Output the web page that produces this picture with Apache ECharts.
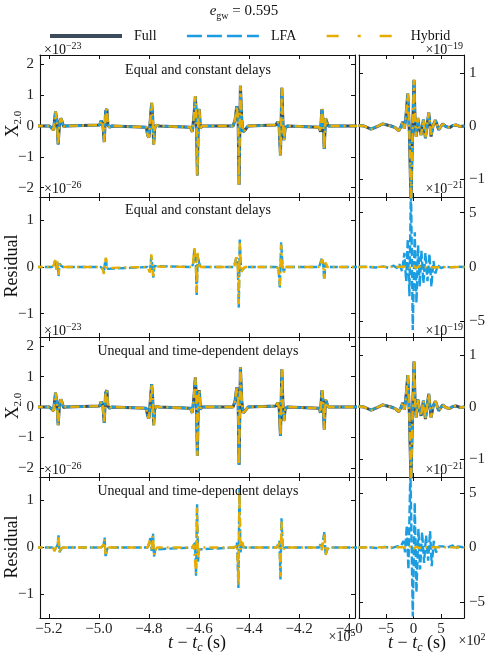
<!DOCTYPE html>
<html><head><meta charset="utf-8">
<script src="https://cdn.jsdelivr.net/npm/echarts@6/dist/echarts.min.js"></script>
<style>html,body{margin:0;padding:0;background:#fff}#c{width:488px;height:655px}</style>
</head><body><div id="c"></div><script>
// ---------- tick labels ----------
const xTicksLeft = [-5.2, -5.0, -4.8, -4.6, -4.4, -4.2, -4.0];   // ×1e5 s
const xTicksRight = [-5, 0, 5];                                  // ×1e2 s
const yTicksX20 = [-2, -1, 0, 1, 2];
const yTicksRes = [-1, 0, 1];
const yTicksX20Zoom = [-1, 0, 1];
const yTicksResZoom = [-5, 0, 5];

// ---------- left panels: X2.0 (×1e-23), t in 1e5 s ----------
const x20Full = [[-5.26,0],
 [-5.1973,0],[-5.1907,-0.05],[-5.1813,-0.13],[-5.1733,0.47],[-5.168,0.2],[-5.1627,-0.6],[-5.1573,0.09],[-5.152,0.25],[-5.1467,0.14],[-5.1413,-0.02],[-5.1333,0],
 [-4.9973,0.03],[-4.9907,0.18],[-4.984,0.03],[-4.9787,-0.52],[-4.9733,0.47],[-4.968,0.55],[-4.964,0.03],[-4.9573,-0.04],[-4.9493,0],
 [-4.8107,-0.04],[-4.8053,-0.3],[-4.8,-0.37],[-4.7947,0.2],[-4.7893,0.75],[-4.7853,0.3],[-4.7813,-0.6],[-4.7773,-0.08],[-4.7707,0.03],[-4.76,0],
 [-4.6347,-0.04],[-4.6267,-0.19],[-4.62,0.36],[-4.6147,0.97],[-4.6107,0.3],[-4.6067,-1.6],[-4.6027,0.3],[-4.5987,0.55],[-4.5947,-0.08],[-4.5893,0],
 [-4.464,0],[-4.456,0.2],[-4.4493,0.64],[-4.444,0.25],[-4.44,-1.9],[-4.4347,1.3],[-4.4293,0.2],[-4.424,-0.19],[-4.416,-0.13],[-4.404,0],
 [-4.2933,0.03],[-4.2853,0.14],[-4.28,-0.02],[-4.2747,-0.95],[-4.2693,1.24],[-4.2653,0.2],[-4.2613,-0.46],[-4.256,-0.08],[-4.248,0],
 [-4.12,-0.04],[-4.1147,-0.19],[-4.1093,0.55],[-4.104,0.14],[-4.1,-0.74],[-4.0947,0.25],[-4.0893,0.2],[-4.084,0],[-4.0747,0],
 [-3.95,0]];
const x20LFA = x20Full;
const x20Hybrid = x20Full;

// ---------- left residuals (×1e-26) ----------
const resEqLFA = [[-5.26,0],
 [-5.1867,0],[-5.18,0.06],[-5.1747,0.13],[-5.1707,-0.05],[-5.1653,0.1],[-5.1613,-0.2],[-5.1573,0.08],[-5.152,0.03],[-5.144,0],
 [-4.9933,0],[-4.9893,0.02],[-4.984,-0.04],[-4.98,-0.13],[-4.976,0.08],[-4.972,0.18],[-4.968,-0.04],[-4.9627,0],
 [-4.8067,0],[-4.8013,0.02],[-4.796,-0.09],[-4.7907,0.23],[-4.7867,0.02],[-4.7827,-0.23],[-4.7787,0.02],[-4.7733,0],
 [-4.6293,0],[-4.624,0.06],[-4.6187,0.38],[-4.6133,0.2],[-4.6093,-0.62],[-4.6053,0.27],[-4.6,0.09],[-4.5933,0],
 [-4.4613,0],[-4.456,0.04],[-4.4507,0.2],[-4.4453,0.06],[-4.4413,-0.87],[-4.4373,0.59],[-4.432,-0.08],[-4.424,-0.05],[-4.416,0],
 [-4.2933,0],[-4.288,0.02],[-4.2827,-0.01],[-4.2773,-0.44],[-4.272,0.53],[-4.2667,0.02],[-4.2613,-0.1],[-4.256,-0.01],[-4.248,0],
 [-4.12,0],[-4.1147,0.04],[-4.1093,0.2],[-4.104,0.06],[-4.1,-0.28],[-4.0947,0.08],[-4.088,0],
 [-3.95,0]];
const resEqHybrid = [[-5.26,0],
 [-5.1867,0],[-5.18,0.05],[-5.1747,0.15],[-5.1707,-0.08],[-5.1653,0.12],[-5.1613,-0.17],[-5.1573,0.06],[-5.152,0.02],[-5.144,0],
 [-4.9933,0],[-4.9893,0.03],[-4.984,-0.06],[-4.98,-0.15],[-4.976,0.1],[-4.972,0.2],[-4.968,-0.02],[-4.9627,0],
 [-4.8067,0],[-4.8013,0.03],[-4.796,-0.12],[-4.7907,0.27],[-4.7867,0.05],[-4.7827,-0.2],[-4.7787,0.01],[-4.7733,0],
 [-4.6293,0],[-4.624,0.08],[-4.6187,0.44],[-4.6133,0.15],[-4.6093,-0.55],[-4.6053,0.3],[-4.6,0.05],[-4.5933,0],
 [-4.4613,0],[-4.456,0.06],[-4.4507,0.25],[-4.4453,0.02],[-4.4413,-0.8],[-4.4373,0.52],[-4.432,-0.12],[-4.424,-0.03],[-4.416,0],
 [-4.2933,0],[-4.288,0.03],[-4.2827,-0.03],[-4.2773,-0.4],[-4.272,0.48],[-4.2667,0.05],[-4.2613,-0.12],[-4.256,0],[-4.248,0],
 [-4.12,0],[-4.1147,0.05],[-4.1093,0.17],[-4.104,0.03],[-4.1,-0.25],[-4.0947,0.1],[-4.088,0],
 [-3.95,0]];
const resUneqLFA = [[-5.26,0],
 [-5.184,0],[-5.1773,-0.06],[-5.1707,0],[-5.1653,0.05],[-5.1613,0.26],[-5.1573,-0.1],[-5.152,-0.04],[-5.144,0],
 [-4.992,0],[-4.9867,-0.04],[-4.9813,0.04],[-4.9773,0.21],[-4.9733,-0.21],[-4.968,-0.04],[-4.96,0],
 [-4.8053,0],[-4.8,0.07],[-4.7947,0.2],[-4.7893,-0.07],[-4.784,0.3],[-4.78,-0.19],[-4.7747,-0.04],[-4.768,0],
 [-4.6267,0],[-4.6213,0.04],[-4.616,0.1],[-4.612,-0.6],[-4.608,0.92],[-4.604,-0.3],[-4.6,-0.04],[-4.5933,0],
 [-4.4587,0],[-4.4533,0.02],[-4.448,0.1],[-4.4427,-0.86],[-4.4387,1.26],[-4.4347,-0.1],[-4.428,0.1],[-4.4213,0],
 [-4.2893,0],[-4.284,0.02],[-4.2787,0.14],[-4.2747,-0.68],[-4.2707,0.62],[-4.2653,-0.04],[-4.2573,0],
 [-4.12,0],[-4.1147,0.07],[-4.1093,-0.04],[-4.104,0.18],[-4.0987,0.34],[-4.0947,-0.17],[-4.0893,-0.07],[-4.0827,0],
 [-3.95,0]];
const resUneqHybrid = [[-5.26,0],
 [-5.184,0],[-5.1773,-0.08],[-5.1707,0.02],[-5.1653,0.08],[-5.1613,0.22],[-5.1573,-0.12],[-5.152,-0.02],[-5.144,0],
 [-4.992,0],[-4.9867,-0.02],[-4.9813,0.06],[-4.9773,0.17],[-4.9733,-0.18],[-4.968,-0.06],[-4.96,0],
 [-4.8053,0],[-4.8,0.1],[-4.7947,0.17],[-4.7893,-0.04],[-4.784,0.25],[-4.78,-0.15],[-4.7747,-0.06],[-4.768,0],
 [-4.6267,0],[-4.6213,0.06],[-4.616,0.05],[-4.612,-0.55],[-4.608,0.85],[-4.604,-0.25],[-4.6,-0.06],[-4.5933,0],
 [-4.4587,0],[-4.4533,0.04],[-4.448,0.06],[-4.4427,-0.8],[-4.4387,1.2],[-4.4347,-0.05],[-4.428,0.12],[-4.4213,0],
 [-4.2893,0],[-4.284,0.04],[-4.2787,0.1],[-4.2747,-0.62],[-4.2707,0.55],[-4.2653,-0.06],[-4.2573,0],
 [-4.12,0],[-4.1147,0.05],[-4.1093,-0.06],[-4.104,0.15],[-4.0987,0.3],[-4.0947,-0.15],[-4.0893,-0.05],[-4.0827,0],
 [-3.95,0]];

// ---------- right panels: zoom near t_c, t in 1e2 s ----------
const zoomX20Full = [[-10.0,0.01],[-9.0,0.0],[-7.7,-0.06],[-6.6,-0.01],[-5.58,0.04],[-4.8,0.02],[-4.06,0.0],[-3.3,-0.03],[-2.67,-0.09],[-2.3,-0.02],[-1.94,0.08],[-1.64,-0.05],[-1.35,0.2],[-1.03,0.61],[-0.73,-0.14],[-0.45,-1.45],[-0.2,-0.3],[0.1,0.87],[0.3,0.1],[0.5,-0.2],[0.79,0.15],[1.1,-0.05],[1.39,-0.17],[1.82,0.12],[2.18,-0.23],[2.79,0.25],[3.21,-0.2],[3.6,0.02],[4.0,0.11],[4.6,-0.07],[5.33,0.04],[5.9,-0.01],[6.55,-0.03],[7.2,0.01],[7.76,0.02],[8.5,-0.01],[9.3,0.0]];
const zoomX20LFA = zoomX20Full;
const zoomX20Hybrid = zoomX20Full;
const zoomResEqLFA = [[-10,0],[-8.5,0.02],[-7.0,-0.05],[-5.5,0.05],[-4.5,-0.08],[-3.6,0.12],[-3.0,-0.1],[-2.55,0.25],[-2.06,-0.4],[-1.64,1.3],[-1.33,-1.3],[-1.03,2.6],[-0.73,-2.7],[-0.45,7.6],[-0.12,-5.8],[0.24,3.2],[0.55,-3.3],[0.85,2.0],[1.15,-1.8],[1.45,1.5],[1.82,-1.5],[2.18,1.3],[2.55,-1.3],[2.91,1.2],[3.27,-1.8],[3.64,0.55],[4.0,-0.6],[4.42,0.15],[5.03,-0.1],[5.8,0.05],[6.8,-0.03],[8.0,0.02],[9.3,0]];
const zoomResEqHybrid = [[-10,0],[-2,0.02],[-1,0.08],[-0.5,-0.15],[0,0.12],[0.5,-0.1],[1,0.06],[2,-0.03],[9.3,0]];
const zoomResUneqLFA = [[-10,0],[-8.3,0.03],[-6.8,-0.05],[-5.2,0.06],[-4.0,-0.05],[-3.0,0.1],[-2.24,0.15],[-1.82,0.6],[-1.52,-0.45],[-1.21,2.0],[-0.91,-2.0],[-0.55,7.2],[-0.12,-6.3],[0.24,4.1],[0.55,-4.1],[0.91,1.7],[1.21,-2.0],[1.58,1.4],[1.94,-1.4],[2.3,1.1],[2.67,-1.2],[3.03,1.5],[3.33,-1.7],[3.7,0.6],[4.12,-0.45],[4.6,0.1],[5.33,0.1],[6.24,0],[7.15,0.2],[7.6,-0.15],[8.06,0.1],[9.3,0]];
const zoomResUneqHybrid = [[-10,0],[-2,0.03],[-1,-0.06],[-0.5,0.14],[0,-0.12],[0.5,0.08],[1,-0.05],[2,0.02],[9.3,0]];

// ---------- texts ----------
const panelTitles = ['Equal and constant delays', 'Equal and constant delays', 'Unequal and time-dependent delays', 'Unequal and time-dependent delays'];
const offsetLeft = ['\u221223', '\u221226', '\u221223', '\u221226'];
const offsetRight = ['\u221219', '\u221221', '\u221219', '\u221221'];

// ---------- layout & styles ----------
const FONT = 'Liberation Serif';
const C_FULL = '#3c4b5b', C_LFA = '#1a9de1', C_HYB = '#e6ad00';
const COLS = { L: { left: 40, width: 315, x: [-5.2353, -3.977], xt: xTicksLeft, dec: 1 },
               R: { left: 359, width: 105, x: [-9.9, 9.2], xt: xTicksRight, dec: 0 } };
const ROWS = [{ top: 55, height: 142 }, { top: 197, height: 140 }, { top: 337, height: 140 }, { top: 477, height: 141 }];

const panels = [
  { r: 0, c: 'L', y: 2.3, yt: yTicksX20, s: [['Full', x20Full], ['LFA', x20LFA], ['Hybrid', x20Hybrid]] },
  { r: 0, c: 'R', y: 1.34, yt: yTicksX20Zoom, s: [['Full', zoomX20Full], ['LFA', zoomX20LFA], ['Hybrid', zoomX20Hybrid]] },
  { r: 1, c: 'L', y: 1.5, yt: yTicksRes, s: [['LFA', resEqLFA], ['Hybrid', resEqHybrid]] },
  { r: 1, c: 'R', y: 6.45, yt: yTicksResZoom, s: [['LFA', zoomResEqLFA], ['Hybrid', zoomResEqHybrid]] },
  { r: 2, c: 'L', y: 2.3, yt: yTicksX20, s: [['Full', x20Full], ['LFA', x20LFA], ['Hybrid', x20Hybrid]] },
  { r: 2, c: 'R', y: 1.34, yt: yTicksX20Zoom, s: [['Full', zoomX20Full], ['LFA', zoomX20LFA], ['Hybrid', zoomX20Hybrid]] },
  { r: 3, c: 'L', y: 1.5, yt: yTicksRes, s: [['LFA', resUneqLFA], ['Hybrid', resUneqHybrid]] },
  { r: 3, c: 'R', y: 6.45, yt: yTicksResZoom, s: [['LFA', zoomResUneqLFA], ['Hybrid', zoomResUneqHybrid]] }
];

const fmt = (v, d) => (v < -1e-9 ? '\u2212' : '') + Math.abs(v).toFixed(d);
const lineStyles = {
  Full: { color: C_FULL, width: 3 },
  LFA: { color: C_LFA, width: 2.4, type: [8, 3] },
  Hybrid: { color: C_HYB, width: 2.4, type: [9, 4, 2, 4] }
};
const zOf = { Full: 2, LFA: 3, Hybrid: 4 };

const grid = [], xAxis = [], yAxis = [], series = [];
const axLine = { show: true, onZero: false, lineStyle: { color: '#111', width: 1.1 } };
const labelStyle = { fontFamily: FONT, fontSize: 15, color: '#222' };

panels.forEach((p, g) => {
  const col = COLS[p.c], row = ROWS[p.r];
  grid.push({ left: col.left, width: col.width, top: row.top, height: row.height, containLabel: false });
  const tickX = { show: true, inside: true, length: 4, customValues: col.xt, lineStyle: { color: '#111', width: 1 } };
  const tickY = { show: true, inside: true, length: 4, customValues: p.yt, lineStyle: { color: '#111', width: 1 } };
  xAxis.push({ gridIndex: g, type: 'value', position: 'bottom', min: col.x[0], max: col.x[1],
    axisLine: axLine, axisTick: tickX, splitLine: { show: false },
    axisLabel: Object.assign({ show: p.r === 3, customValues: col.xt, margin: 4, formatter: v => fmt(v, col.dec) }, labelStyle) });
  xAxis.push({ gridIndex: g, type: 'value', position: 'top', min: col.x[0], max: col.x[1],
    axisLine: axLine, axisTick: tickX, splitLine: { show: false }, axisLabel: { show: false } });
  yAxis.push({ gridIndex: g, type: 'value', position: 'left', min: -p.y, max: p.y,
    axisLine: axLine, axisTick: tickY, splitLine: { show: false },
    axisLabel: Object.assign({ show: p.c === 'L', customValues: p.yt, margin: 6, formatter: v => fmt(v, 0) }, labelStyle) });
  yAxis.push({ gridIndex: g, type: 'value', position: 'right', min: -p.y, max: p.y,
    axisLine: axLine, axisTick: tickY, splitLine: { show: false },
    axisLabel: Object.assign({ show: p.c === 'R', customValues: p.yt, margin: 5, formatter: v => fmt(v, 0) }, labelStyle) });
  p.s.forEach(([name, data]) => {
    series.push({ type: 'line', name, data, xAxisIndex: 2 * g, yAxisIndex: 2 * g,
      symbol: 'none', showSymbol: false, clip: true, animation: false, z: zOf[name],
      lineStyle: lineStyles[name], itemStyle: { color: lineStyles[name].color } });
  });
});

// ---------- text graphics ----------
const rich = {
  n: { fontFamily: FONT, fontSize: 15, lineHeight: 20, fill: '#111', color: '#111' },
  i: { fontFamily: FONT, fontSize: 15, fontStyle: 'italic', lineHeight: 20, fill: '#111', color: '#111' },
  s: { fontFamily: FONT, fontSize: 10, lineHeight: 10, verticalAlign: 'bottom', fill: '#111', color: '#111' },
  m: { fontFamily: FONT, fontSize: 14, lineHeight: 18, fill: '#111', color: '#111' },
  sup: { fontFamily: FONT, fontSize: 10, lineHeight: 12, verticalAlign: 'top', fill: '#111', color: '#111' },
  X: { fontFamily: FONT, fontSize: 18, lineHeight: 22, fill: '#111', color: '#111' },
  xs: { fontFamily: FONT, fontSize: 11, lineHeight: 11, verticalAlign: 'bottom', fill: '#111', color: '#111' },
  N: { fontFamily: FONT, fontSize: 18, lineHeight: 22, fill: '#111', color: '#111' },
  I: { fontFamily: FONT, fontSize: 18, fontStyle: 'italic', lineHeight: 22, fill: '#111', color: '#111' },
  IS: { fontFamily: FONT, fontSize: 12, fontStyle: 'italic', lineHeight: 12, verticalAlign: 'bottom', fill: '#111', color: '#111' }
};
function txt(x, y, text, opts) {
  opts = opts || {};
  return { type: 'text', x, y, rotation: opts.rot || 0, z: 100, silent: true,
    style: { text, rich, align: opts.align || 'center', verticalAlign: 'middle',
      textAlign: opts.align || 'center', textVerticalAlign: 'middle',
      fontFamily: FONT, fontSize: opts.size || 14, fill: '#111' } };
}
const graphics = [];
graphics.push(txt(244, 11, '{i|e}{s|gw}{n| = 0.595}'));
const titleY = [70, 210, 351, 491];
panelTitles.forEach((t, k) => graphics.push(txt(198, titleY[k], t, { size: 14 })));
const offY = [50, 189, 331, 470];
offsetLeft.forEach((e, k) => graphics.push(txt(44, offY[k], '{m|×10}{sup|' + e + '}', { align: 'left' })));
offsetRight.forEach((e, k) => graphics.push(txt(463, offY[k], '{m|×10}{sup|' + e + '}', { align: 'right' })));
graphics.push(txt(13, 124, '{X|X}{xs|2.0}', { rot: Math.PI / 2 }));
graphics.push(txt(13, 406, '{X|X}{xs|2.0}', { rot: Math.PI / 2 }));
graphics.push(txt(12, 266, '{N|Residual}', { rot: Math.PI / 2 }));
graphics.push(txt(12, 547, '{N|Residual}', { rot: Math.PI / 2 }));
graphics.push(txt(197, 643, '{I|t}{N| \u2212 }{I|t}{IS|c}{N| (s)}'));
graphics.push(txt(417, 643, '{I|t}{N| \u2212 }{I|t}{IS|c}{N| (s)}'));
graphics.push(txt(342, 637, '{m|×10}{sup|5}'));
graphics.push(txt(472, 641, '{m|×10}{sup|2}'));

const chart = echarts.init(document.getElementById('c'), null, { renderer: 'canvas' });
chart.setOption({
  animation: false,
  backgroundColor: '#fff',
  legend: {
    left: 48, top: 29, padding: 0, itemWidth: 72, itemHeight: 14, itemGap: 29,
    textStyle: { fontFamily: FONT, fontSize: 14, color: '#111', padding: [0, 0, 0, 7] },
    itemStyle: { opacity: 0 },
    data: [
      { name: 'Full', itemStyle: { opacity: 0 }, lineStyle: { color: C_FULL, width: 4 } },
      { name: 'LFA', itemStyle: { opacity: 0 }, lineStyle: { color: C_LFA, width: 2.7, type: [15, 5] } },
      { name: 'Hybrid', itemStyle: { opacity: 0 }, lineStyle: { color: C_HYB, width: 2.7, type: [12, 19, 3, 19] } }
    ]
  },
  grid, xAxis, yAxis, series,
  graphic: { elements: graphics }
});
</script></body></html>
